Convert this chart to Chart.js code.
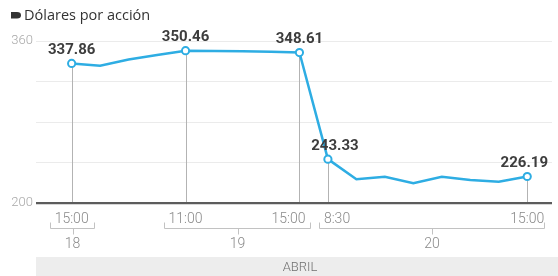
<!DOCTYPE html>
<html><head><meta charset="utf-8">
<script src="https://cdn.jsdelivr.net/npm/chart.js@4/dist/chart.umd.min.js"></script>
<style>html,body{margin:0;padding:0;background:#fff}#c{display:block}</style>
</head><body>
<canvas id="c" width="558" height="276"></canvas>
<script>
// ---- data ----
const titleText = "Dólares por acción";
const monthLabel = "ABRIL";
const timeLabels = ["15:00","","","","11:00","","","","15:00","8:30","","","","","","","15:00"];
const values = [337.86, 335.6, 341.7, 346.2, 350.46, 350.2, 349.8, 349.3, 348.61, 243.33, 223.4, 226.0, 219.5, 226.0, 222.7, 221.0, 226.19];
const days = ["18", "19", "20"];
const dayFirstIndex = [0, 4, 9];
const dayLastIndex = [0, 8, 16];
const yTickLabels = [200, 360];

// ---- style ----
const LINE = '#2eadE3';
const GREY_TXT = '#8a8a8a';
const FONT = 'Roboto, "Open Sans", sans-serif';

const overlay = {
  id: 'overlay',
  beforeDatasetsDraw(chart) {
    const {ctx, scales: {x, y}} = chart;
    ctx.save();
    ctx.strokeStyle = '#b3b3b3';
    ctx.lineWidth = 1;
    values.forEach((v, i) => {
      if (!timeLabels[i]) return;
      const px = Math.round(x.getPixelForValue(i)) + 0.5;
      ctx.beginPath();
      ctx.moveTo(px, y.getPixelForValue(v));
      ctx.lineTo(px, y.getPixelForValue(200) - 1);
      ctx.stroke();
    });
    ctx.restore();
  },
  afterDatasetsDraw(chart) {
    const {ctx, chartArea, scales: {x, y}} = chart;
    ctx.save();
    // value labels
    ctx.font = 'bold 15px ' + FONT;
    ctx.fillStyle = '#3d3d3d';
    ctx.textAlign = 'center';
    ctx.textBaseline = 'middle';
    values.forEach((v, i) => {
      if (!timeLabels[i]) return;
      let px = x.getPixelForValue(i);
      const py = y.getPixelForValue(v);
      const txt = v.toFixed(2);
      const w = ctx.measureText(txt).width;
      if (i > 0 && values[i - 1] - v > 40) px += 7;
      if (px + w / 2 > chartArea.right - 4) px = chartArea.right - 4 - w / 2;
      ctx.fillText(txt, px, py - 13);
    });

    // time labels and brackets
    ctx.font = '300 14px ' + FONT;
    ctx.fillStyle = GREY_TXT;
    ctx.textBaseline = 'middle';
    const ext = {};
    const labeled = timeLabels.map((t, k) => t ? k : -1).filter(k => k >= 0);
    values.forEach((v, i) => {
      if (!timeLabels[i]) return;
      const px = x.getPixelForValue(i);
      const w = ctx.measureText(timeLabels[i]).width;
      let l = px - w / 2;
      const pos = labeled.indexOf(i);
      const prev = labeled[pos - 1], next = labeled[pos + 1];
      if (next !== undefined && x.getPixelForValue(next) - px < 45) { l = px + 6 - w; }
      else if (prev !== undefined && px - x.getPixelForValue(prev) < 45) { l = px - 4; }
      ctx.textAlign = 'left';
      ctx.fillText(timeLabels[i], l, 219);
      ext[i] = [l, l + w];
    });
    ctx.strokeStyle = '#c2c2c2';
    ctx.lineWidth = 1;
    ctx.textAlign = 'center';
    days.forEach((d, k) => {
      const a = Math.round(ext[dayFirstIndex[k]][0] - 5) + 0.5;
      const b = Math.min(Math.round(ext[dayLastIndex[k]][1] + 5), chartArea.right - 8) + 0.5;
      const yb = 228.5;
      ctx.beginPath();
      ctx.moveTo(a, yb - 6); ctx.lineTo(a, yb); ctx.lineTo(b, yb); ctx.lineTo(b, yb - 6);
      const c = Math.round((a + b) / 2) + 0.5;
      ctx.moveTo(c, yb); ctx.lineTo(c, yb + 6);
      ctx.stroke();
      ctx.fillText(d, (a + b) / 2, 244);
    });

    // month band
    ctx.fillStyle = '#ededed';
    ctx.fillRect(chartArea.left, 257, 558 - chartArea.left, 19);
    ctx.fillStyle = '#707070';
    ctx.font = '300 13px ' + FONT;
    ctx.fillText(monthLabel, (chartArea.left + 558) / 2 + 3, 268);

    // title
    ctx.fillStyle = '#333';
    ctx.beginPath();
    ctx.moveTo(11, 12); ctx.lineTo(17, 12);
    ctx.quadraticCurveTo(21, 12, 21, 15.2);
    ctx.quadraticCurveTo(21, 18.4, 17, 18.4);
    ctx.lineTo(11, 18.4); ctx.closePath(); ctx.fill();
    ctx.font = '14.5px "Open Sans", sans-serif';
    ctx.textAlign = 'left';
    ctx.textBaseline = 'alphabetic';
    ctx.fillText(titleText, 24, 20);
    ctx.restore();
  }
};

new Chart(document.getElementById('c'), {
  type: 'line',
  data: {
    datasets: [{
      data: values.map((v, i) => ({x: i, y: v})),
      borderColor: LINE,
      borderWidth: 2.5,
      tension: 0,
      clip: false,
      pointRadius: values.map((v, i) => timeLabels[i] ? 3.6 : 0),
      pointBackgroundColor: '#fff',
      pointBorderColor: LINE,
      pointBorderWidth: 2
    }]
  },
  options: {
    responsive: false,
    animation: false,
    events: [],
    layout: {padding: {top: 41, bottom: 73, left: 0, right: 1}},
    plugins: {legend: {display: false}, tooltip: {enabled: false}},
    scales: {
      x: {type: 'linear', min: -1.252, max: 16.87, display: false},
      y: {
        min: 200, max: 360,
        afterFit: s => { s.width = 36; },
        border: {display: false},
        grid: {
          drawTicks: false,
          color: c => c.tick.value === 200 ? '#5c5c5c' : '#ebebeb',
          lineWidth: c => c.tick.value === 200 ? 2.2 : 1
        },
        ticks: {
          stepSize: 40, padding: 3, color: '#a8a8a8',
          font: {family: 'Roboto', size: 13, weight: '300'},
          callback: v => yTickLabels.includes(v) ? String(v) : ''
        }
      }
    }
  },
  plugins: [overlay]
});
</script>
</body></html>
